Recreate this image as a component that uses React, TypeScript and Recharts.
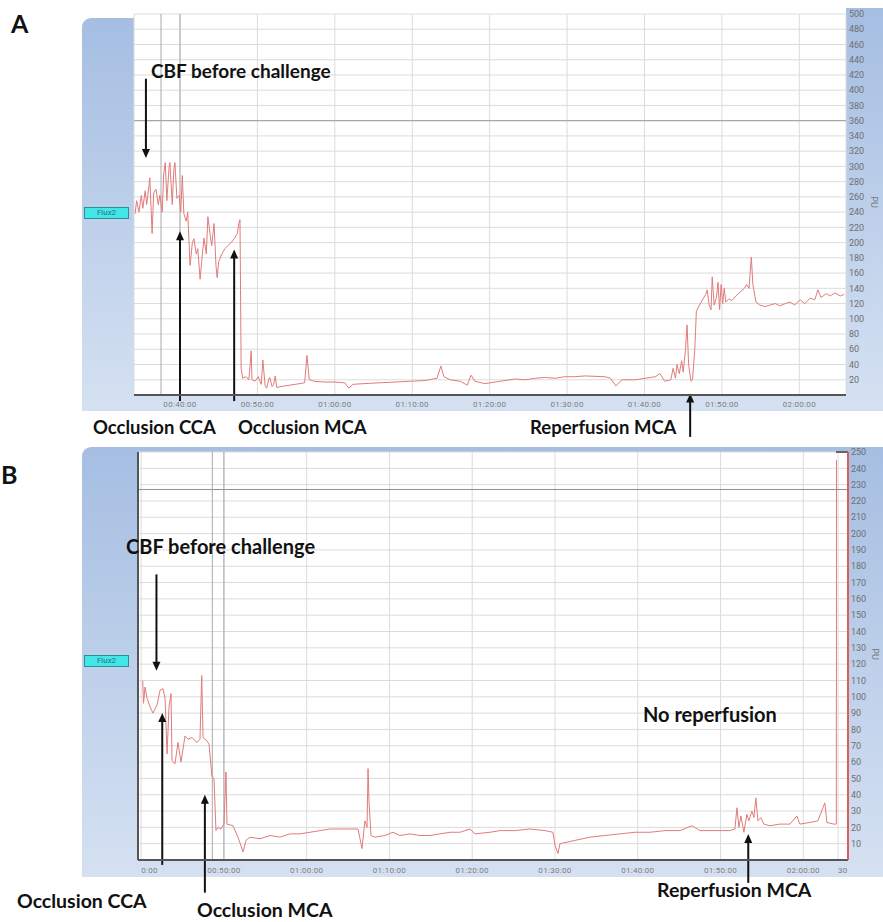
import { CartesianGrid, Line, LineChart, ReferenceLine, XAxis, YAxis } from 'recharts';

const TRACE = '#e27b7b';
const GRID = '#dcdcdc';
const BAND = 'linear-gradient(#a5bee2, #d5e1f2)';
const LABEL_FONT = 'Lato, "Open Sans", sans-serif';

// Panel A: minutes of recording / laser Doppler flux (PU)
const A_MIN = [
  34.2, 34.4, 34.7, 35.0, 35.2, 35.5, 35.7, 36.0, 36.1, 36.4, 36.6, 36.9, 37.2, 37.4, 37.7, 37.9,
  38.1, 38.3, 38.6, 38.7, 39.0, 39.2, 39.35, 39.6, 39.9, 40.1, 40.3, 40.5, 40.8, 41.0, 41.3, 41.6,
  41.8, 42.1, 42.3, 42.6, 42.8, 43.1, 43.4, 43.6, 43.9, 44.1, 44.4, 44.65, 44.8, 45.0, 45.4, 45.8,
  46.2, 46.6, 47.0, 47.4, 47.6, 47.75, 47.9, 48.1, 48.5, 48.9, 49.2, 49.3, 49.7, 50.1, 50.5, 50.7,
  51.0, 51.2, 51.5, 51.6, 51.9, 52.1, 52.3, 52.5, 53.6, 54.9, 56.1, 56.4, 56.7, 57.4, 58.7, 60.0,
  61.3, 61.8, 62.35, 63.9, 65.8, 67.8, 69.7, 71.65, 73.2, 73.7, 74.1, 74.9, 76.2, 77.1, 77.6, 78.1,
  79.4, 80.7, 82.0, 83.3, 84.6, 85.9, 87.2, 88.45, 89.7, 91.0, 92.3, 94.9, 95.6, 96.3, 97.1, 98.8,
  100.1, 101.4, 102.0, 102.6, 103.4, 103.7, 104.0, 104.2, 104.5, 104.8, 105.0, 105.3, 105.5, 105.7,
  106.0, 106.2, 106.5, 106.7, 107.1, 107.5, 107.9, 108.1, 108.35, 108.6, 108.75, 109.0, 109.3, 109.5,
  109.7, 109.9, 110.1, 110.3, 110.5, 110.9, 111.3, 111.8, 112.35, 112.9, 113.2, 113.5, 113.8, 114.0,
  114.4, 114.9, 115.6, 116.2, 116.9, 117.5, 118.2, 118.8, 119.4, 120.1, 120.7, 121.4, 122.0, 122.4,
  122.8, 123.5, 124.0, 124.6, 125.3, 125.8,
];
const A_PU = [
  238, 255, 240, 262, 245, 268, 250, 275, 285, 212, 265, 270, 250, 262, 240, 290,
  305, 255, 300, 305, 250, 295, 305, 258, 262, 240, 288, 238, 228, 240, 170, 200,
  205, 185, 192, 152, 175, 206, 185, 234, 210, 196, 225, 170, 154, 175, 185, 192,
  196, 200, 205, 212, 225, 230, 35, 22, 24, 20, 58, 20, 18, 24, 14, 46,
  12, 9, 22, 23, 11, 14, 25, 10, 12, 14, 16, 52, 20, 18, 17, 17,
  16, 9, 14, 15, 16, 17, 18, 19, 22, 38, 24, 20, 18, 13, 26, 18,
  15, 17, 19, 21, 20, 22, 23, 22, 24, 24, 25, 24, 22, 12, 20, 20,
  22, 24, 28, 18, 20, 35, 22, 40, 28, 45, 30, 60, 92, 40,
  18, 20, 60, 110, 118, 125, 132, 138, 118, 112, 155, 118, 128, 148,
  112, 145, 120, 140, 122, 126, 124, 130, 135, 140, 145, 140, 181, 145,
  122, 118, 116, 118, 120, 117, 120, 122, 118, 125, 120, 127, 125, 138,
  128, 133, 130, 134, 130, 132,
];
const A_X_TICKS = [40, 50, 60, 70, 80, 90, 100, 110, 120];
const A_X_LABELS = ['00:40:00', '00:50:00', '01:00:00', '01:10:00', '01:20:00', '01:30:00', '01:40:00', '01:50:00', '02:00:00'];
const A_Y_TICKS = [20, 40, 60, 80, 100, 120, 140, 160, 180, 200, 220, 240, 260, 280, 300, 320, 340, 360, 380, 400, 420, 440, 460, 480, 500];

// Panel B
const B_MIN = [
  40.19, 40.29, 40.47, 40.71, 41.07, 41.43, 41.92, 42.28, 42.64, 42.89, 43.13, 43.37, 43.61, 43.73,
  44.09, 44.45, 44.82, 45.3, 45.66, 46.14, 46.75, 47.11, 47.32, 47.48, 47.96, 48.2, 48.56, 48.8,
  49.04, 49.28, 49.65, 50.01, 50.25, 50.37, 51.1, 51.7, 52.31, 52.67, 53.15, 54.36, 55.57, 56.78,
  57.98, 59.19, 60.4, 61.61, 62.82, 64.02, 65.23, 66.2, 66.68, 67.04, 67.29, 67.41, 67.53, 67.77,
  68.25, 69.46, 70.42, 71.27, 72.48, 73.69, 74.9, 76.1, 77.31, 78.52, 79.73, 80.33, 82.14, 83.35,
  85.16, 86.98, 88.79, 89.75, 90.0, 90.36, 90.6, 92.41, 94.22, 96.04, 97.85, 99.66, 101.47, 103.28,
  105.09, 106.54, 107.51, 109.32, 111.13, 111.74, 111.98, 112.22, 112.46, 112.82, 113.18, 113.42,
  113.79, 114.03, 114.27, 114.51, 114.87, 115.23, 115.96, 117.17, 118.38, 119.22, 119.58, 120.79,
  121.76, 122.6, 122.85, 123.69, 123.99, 124.01,
];
const B_PU = [
  110, 96, 106, 99, 94, 90, 95, 104, 105, 99, 65, 94, 102, 61,
  59, 72, 60, 76, 74, 75, 72, 74, 113, 75, 73, 71, 51, 50,
  18, 20, 19, 22, 54, 22, 21, 14, 5, 12, 14, 13, 15, 14,
  16, 16, 17, 18, 19, 19, 19, 19, 7, 24, 20, 56, 36, 15,
  14, 15, 17, 15, 16, 15, 15, 16, 17, 17, 19, 16, 17, 18,
  18, 19, 18, 17, 9, 4, 10, 12, 14, 15, 16, 17, 17, 18,
  18, 21, 18, 18, 18, 19, 32, 20, 27, 17, 28, 24,
  30, 26, 38, 24, 26, 22, 21, 22, 22, 27, 22, 23,
  24, 35, 23, 22, 22, 245,
];
const B_X_TICKS = [40, 50, 60, 70, 80, 90, 100, 110, 120, 124.2];
const B_X_LABELS = ['0:00', '00:50:00', '01:00:00', '01:10:00', '01:20:00', '01:30:00', '01:40:00', '01:50:00', '02:00:00', '30'];
const B_Y_TICKS = [10, 20, 30, 40, 50, 60, 70, 80, 90, 100, 110, 120, 130, 140, 150, 160, 170, 180, 190, 200, 210, 220, 230, 240, 250];

const zip = (t: number[], v: number[]) => t.map((m, i) => ({ t: m, pu: v[i] }));
const A_ROWS = zip(A_MIN, A_PU);
const B_ROWS = zip(B_MIN, B_PU);

// annotation arrows: time, tail value, head value (data units)
const A_ARROWS = [
  { t: 35.6, from: 415, to: 311 },
  { t: 40.0, from: -8, to: 215 },
  { t: 47.0, from: -8, to: 191 },
  { t: 105.9, from: -55, to: 2 },
];
const B_ARROWS = [
  { t: 41.85, from: 175, to: 116 },
  { t: 42.55, from: -3, to: 90 },
  { t: 47.7, from: -20, to: 40 },
  { t: 113.35, from: -14, to: 16 },
];

function Arrow(props: any) {
  const { x1, y1, x2, y2 } = props;
  const dir = y2 > y1 ? 1 : -1;
  return (
    <g>
      <line x1={x1} y1={y1} x2={x2} y2={y2 - dir * 7} stroke="#111" strokeWidth={2} />
      <polygon points={`${x2},${y2} ${x2 - 4},${y2 - dir * 9} ${x2 + 4},${y2 - dir * 9}`} fill="#111" />
    </g>
  );
}

function timeTick(ticks: number[], labels: string[], dy: number) {
  return (props: any) => {
    const { x, y, payload } = props;
    const label = labels[ticks.indexOf(payload.value)] ?? '';
    const short = label.length < 6;
    return (
      <text x={x} y={y + dy} textAnchor={short ? 'start' : 'middle'} fontSize={8} fill="#7d7d7d" fontFamily="Roboto" letterSpacing={0.3}>
        {label}
      </text>
    );
  };
}

const Label = ({ x, y, size, children }: { x: number; y: number; size: number; children: string }) => (
  <div style={{ position: 'absolute', left: x, top: y, fontFamily: LABEL_FONT, fontWeight: 700, fontSize: size, color: '#111', whiteSpace: 'nowrap', lineHeight: 1 }}>
    {children}
  </div>
);

const FluxTag = ({ x, y }: { x: number; y: number }) => (
  <div style={{ position: 'absolute', left: x, top: y, width: 43, height: 10, background: '#43e6e6', border: '1px solid #2c8f96', fontSize: 8, lineHeight: '10px', textAlign: 'center', color: '#2d6f80', fontFamily: 'Roboto' }}>
    Flux2
  </div>
);

const Unit = ({ x, y }: { x: number; y: number }) => (
  <div style={{ position: 'absolute', left: x, top: y, fontSize: 9, color: '#777', fontFamily: 'Roboto', transform: 'rotate(90deg)' }}>PU</div>
);

export default function App() {
  return (
    <div style={{ position: 'absolute', left: 0, top: 0, width: 883, height: 922, background: '#fff', overflow: 'hidden' }}>
      {/* panel frames */}
      <div style={{ position: 'absolute', left: 82, top: 18, width: 764, height: 393, background: BAND, borderTopLeftRadius: 9 }} />
      <div style={{ position: 'absolute', left: 846, top: 8, width: 37, height: 403, background: BAND }} />
      <div style={{ position: 'absolute', left: 82, top: 447, width: 766, height: 430, background: BAND, borderTopLeftRadius: 9 }} />
      <div style={{ position: 'absolute', left: 848, top: 447, width: 35, height: 430, background: BAND }} />

      <div style={{ position: 'absolute', left: 0, top: 0 }}>
        <LineChart width={883} height={440} data={A_ROWS} margin={{ top: 14, right: 0, bottom: 27, left: 134 }}>
          <CartesianGrid fill="#fff" stroke={GRID} />
          <XAxis
            dataKey="t"
            type="number"
            domain={[34.06, 126.03]}
            ticks={A_X_TICKS}
            height={18}
            tickSize={0}
            axisLine={{ stroke: '#555', strokeWidth: 2 }}
            tick={timeTick(A_X_TICKS, A_X_LABELS, 10)}
            interval={0}
          />
          <YAxis
            orientation="right"
            width={37}
            domain={[0, 500]}
            ticks={A_Y_TICKS}
            interval={0}
            axisLine={false}
            tickLine={false}
            tickSize={0}
            tickMargin={3}
            tick={{ fontSize: 9, fill: '#6f6f6f', fontFamily: 'Roboto' }}
          />
          <ReferenceLine y={360} stroke="#9a9a9a" />
          <ReferenceLine x={37.55} stroke="#a8a8a8" />
          <ReferenceLine x={40} stroke="#a8a8a8" />
          <Line dataKey="pu" stroke={TRACE} strokeWidth={1} dot={false} isAnimationActive={false} />
          {A_ARROWS.map((a, i) => (
            <ReferenceLine key={i} segment={[{ x: a.t, y: a.from }, { x: a.t, y: a.to }]} ifOverflow="visible" shape={Arrow} />
          ))}
        </LineChart>
      </div>

      <div style={{ position: 'absolute', left: 0, top: 440 }}>
        <LineChart width={883} height={460} data={B_ROWS} margin={{ top: 12, right: 0, bottom: 22, left: 138 }}>
          <CartesianGrid fill="#fff" stroke={GRID} />
          <XAxis
            dataKey="t"
            type="number"
            domain={[39.62, 125.4]}
            ticks={B_X_TICKS}
            height={18}
            tickSize={0}
            axisLine={{ stroke: '#555', strokeWidth: 2 }}
            tick={timeTick(B_X_TICKS, B_X_LABELS, 11)}
            interval={0}
          />
          <YAxis
            orientation="right"
            width={35}
            domain={[0, 250]}
            ticks={B_Y_TICKS}
            interval={0}
            axisLine={{ stroke: '#d9605f', strokeWidth: 2 }}
            tickLine={false}
            tickSize={0}
            tickMargin={3}
            tick={{ fontSize: 9, fill: '#6f6f6f', fontFamily: 'Roboto' }}
          />
          <ReferenceLine y={227} stroke="#8f8f8f" />
          <ReferenceLine x={48.6} stroke="#a8a8a8" />
          <ReferenceLine x={50} stroke="#a8a8a8" />
          <ReferenceLine x={39.62} stroke="#555" strokeWidth={2} />
          <ReferenceLine segment={[{ x: 123.95, y: 250 }, { x: 125.4, y: 250 }]} stroke="#666" strokeWidth={2} />
          <Line dataKey="pu" stroke={TRACE} strokeWidth={1} dot={false} isAnimationActive={false} />
          {B_ARROWS.map((a, i) => (
            <ReferenceLine key={i} segment={[{ x: a.t, y: a.from }, { x: a.t, y: a.to }]} ifOverflow="visible" shape={Arrow} />
          ))}
        </LineChart>
      </div>

      <FluxTag x={84} y={207} />
      <FluxTag x={84} y={655} />
      <Unit x={868} y={197} />
      <Unit x={869} y={649} />

      <Label x={11} y={11} size={25}>A</Label>
      <Label x={151} y={61} size={19}>CBF before challenge</Label>
      <Label x={93} y={418} size={18.5}>Occlusion CCA</Label>
      <Label x={238} y={418} size={18.5}>Occlusion MCA</Label>
      <Label x={530} y={418} size={18.5}>Reperfusion MCA</Label>

      <Label x={1} y={462} size={25}>B</Label>
      <Label x={126} y={536} size={20}>CBF before challenge</Label>
      <Label x={643} y={704} size={20}>No reperfusion</Label>
      <Label x={17} y={891} size={19.5}>Occlusion CCA</Label>
      <Label x={197} y={900} size={19.5}>Occlusion MCA</Label>
      <Label x={657} y={880} size={19.5}>Reperfusion MCA</Label>
    </div>
  );
}
